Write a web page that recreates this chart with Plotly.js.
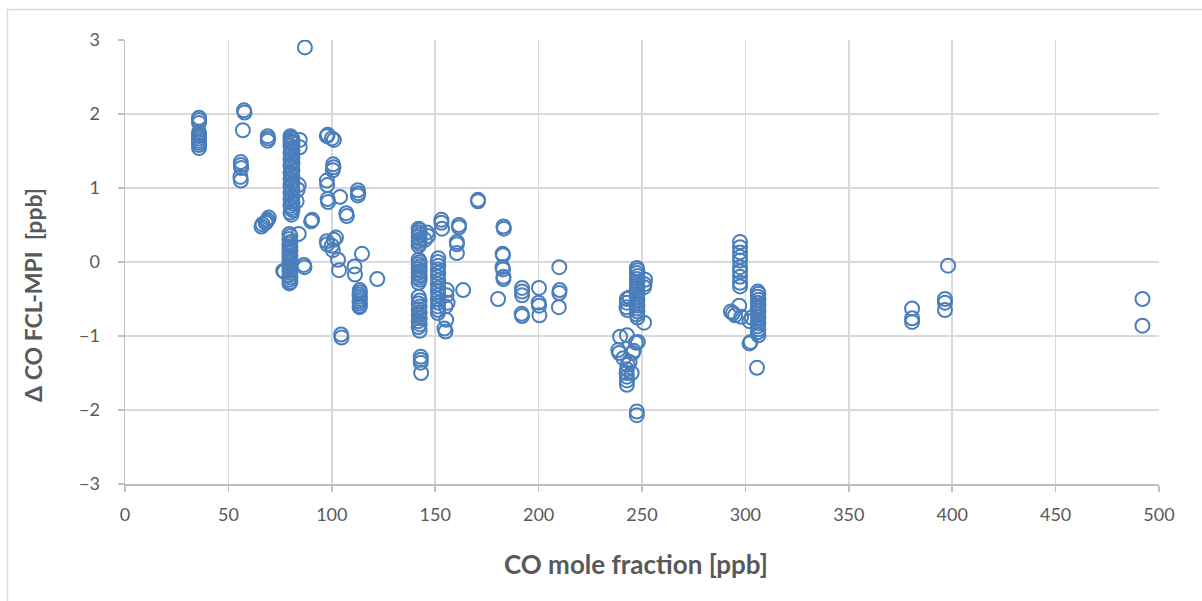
<!DOCTYPE html>
<html>
<head>
<meta charset="utf-8">
<script src="https://cdn.plot.ly/plotly-3.0.1.min.js"></script>
<style>html,body{margin:0;padding:0;background:#fff;}#chart{width:1202px;height:601px;}</style>
</head>
<body>
<div id="chart"></div>
<script>
// CO mole fraction [ppb]
const coMoleFraction = [
  // ~36 ppb
  35.8,35.8,35.8,35.8,35.8,35.8,35.8,35.8,35.8,35.8,35.8,
  // ~57 ppb
  57.5,57.8,57,56,56,56.2,55.8,56,
  // ~69 ppb
  69,69.2,69, 66,66.5,68,69,69.5,68.5,
  // dense column ~80 (upper)
  80,80.5,81,80,80.5,81,80,80.5,81,80,80.5,81,80,80.5,81,80,80.5,81,80,80.5,81,80,80.5,81,80,80.5,81,80,80.5,81,80,80.5,81,80,80.5,81,80,80.5,
  84.5,84.5,84,83.5,83,
  // dense column ~80 (lower)
  79.5,80,79.5,80,79.5,80,79.5,80,79.5,80,79.5,80,79.5,80,79.5,80,79.5,80,79.5,80,79.5,80,79.5,
  77,76.5,84,86.5,86.8,87,
  90,90.5,
  // ~98-122 ppb
  97.6,98,100,101,100.6,100.8,100.5,97.6,97.8,98,98.2,104,112.6,112.8,112.6,107,107.3,97.6,97.8,100,101,102,100.5,103,103.5,111,111.2,114.6,122,104.5,104.7,
  // ~113 column
  113.5,113.6,113.4,113.5,113.6,113.4,113.5,113.6,113.4,
  // ~142 ppb
  142,142.5,142,142.5,142,142.5,142,142.5,142,
  142,142.5,142,142.5,142,142.5,142,142.5,142,142.5,142,
  142,142.5,142,142.5,142,142.5,142,142.5,142,142.5,142,142.5,
  143,143,143,143.2,146,146.5,145,
  // ~151 ppb
  151.5,151.3,151.5,151.3,151.5,151.3,151.5,151.3,151.5,151.3,151.5,151.3,151.5,151.3,151.5,151.3,
  155.6,155.5,156,155,155.3,155,154.5,163.5,
  153,153,153.3,161.5,161.5,160.5,160.5,160.5,170.7,170.7,
  // ~180-210 ppb
  183,183.2,182.8,182.6,182.5,182.8,183,183,180.4,
  192,192,192,191.8,192,200.2,200,200.2,200.4,210,210.2,210,209.8,
  // ~247 ppb
  247.5,247.8,247.5,247.8,247.5,247.8,247.5,247.8,247.5,247.8,247.5,247.8,247.5,247.8,247.5,247.8,247.5,247.8,
  251.5,251.2,251,251,242.7,242.7,242.5,243,244,
  239.4,242.7,238.5,239,245.5,247,248,241,243,242.7,242.5,242.7,242.7,242.7,245,244,246,247.5,247.5,
  // ~297 ppb
  297.4,297.4,297.4,297.4,297.4,297.4,297.4,297.4,297.4,297.4,
  294,295,293,297,298,
  // ~306 ppb
  306,306.3,306,306.3,306,306.3,306,306.3,306,306.3,306,306.3,306,306.3,306,306.3,
  302,302.5,305.6,303,302,
  // high values
  380.6,380.6,380.6,396.5,396.5,396.5,398,492,492
];

// Δ CO FCL-MPI [ppb]
const deltaCO = [
  1.95,1.92,1.88,1.75,1.72,1.70,1.67,1.64,1.61,1.58,1.54,
  2.05,2.02,1.78,1.35,1.31,1.27,1.15,1.10,
  1.70,1.67,1.64, 0.48,0.51,0.53,0.57,0.60,0.55,
  1.70,1.68,1.66,1.64,1.62,1.60,1.57,1.54,1.51,1.48,1.45,1.42,1.39,1.36,1.33,1.30,1.27,1.24,1.21,1.18,1.15,1.12,1.09,1.06,1.03,1.00,0.97,0.94,0.91,0.88,0.85,0.82,0.79,0.76,0.73,0.70,0.67,0.64,
  1.65,1.55,1.04,0.98,0.82,
  0.38,0.35,0.31,0.27,0.24,0.21,0.18,0.15,0.12,0.09,0.06,0.03,0.00,-0.03,-0.06,-0.09,-0.12,-0.15,-0.18,-0.21,-0.24,-0.27,-0.29,
  -0.13,-0.12,0.38,-0.04,-0.07,2.90,
  0.55,0.57,
  1.70,1.72,1.67,1.65,1.32,1.28,1.24,1.10,1.04,0.85,0.81,0.88,0.97,0.93,0.90,0.66,0.62,0.28,0.24,0.22,0.30,0.33,0.16,0.03,-0.11,-0.06,-0.17,0.11,-0.23,-0.98,-1.02,
  -0.38,-0.41,-0.44,-0.47,-0.50,-0.53,-0.56,-0.59,-0.61,
  0.45,0.43,0.40,0.37,0.34,0.31,0.28,0.25,0.22,
  0.03,0.00,-0.03,-0.06,-0.09,-0.12,-0.15,-0.18,-0.21,-0.24,-0.28,
  -0.47,-0.52,-0.56,-0.60,-0.64,-0.68,-0.72,-0.76,-0.80,-0.84,-0.88,-0.93,
  -1.28,-1.32,-1.36,-1.50,0.40,0.35,0.30,
  0.05,0.00,-0.05,-0.10,-0.15,-0.20,-0.25,-0.30,-0.35,-0.40,-0.45,-0.50,-0.55,-0.60,-0.65,-0.69,
  -0.38,-0.45,-0.55,-0.60,-0.78,-0.94,-0.90,-0.38,
  0.57,0.53,0.45,0.50,0.47,0.27,0.24,0.12,0.84,0.82,
  0.48,0.45,0.09,0.11,-0.07,-0.10,-0.20,-0.23,-0.50,
  -0.35,-0.40,-0.45,-0.70,-0.73,-0.35,-0.55,-0.59,-0.72,-0.07,-0.38,-0.42,-0.61,
  -0.08,-0.11,-0.15,-0.19,-0.23,-0.27,-0.31,-0.35,-0.39,-0.43,-0.47,-0.51,-0.55,-0.59,-0.63,-0.67,-0.71,-0.75,
  -0.24,-0.30,-0.34,-0.82,-0.50,-0.55,-0.61,-0.65,-0.48,
  -1.01,-0.99,-1.19,-1.23,-1.23,-1.09,-1.08,-1.30,-1.39,-1.45,-1.50,-1.55,-1.60,-1.66,-1.50,-1.35,-1.20,-2.02,-2.07,
  0.27,0.20,0.13,0.07,0.02,-0.07,-0.13,-0.20,-0.28,-0.33,
  -0.69,-0.72,-0.67,-0.59,-0.74,
  -0.40,-0.43,-0.47,-0.51,-0.55,-0.59,-0.63,-0.67,-0.71,-0.75,-0.79,-0.83,-0.87,-0.91,-0.95,-0.99,
  -1.10,-1.08,-1.43,-0.75,-0.80,
  -0.63,-0.76,-0.81,-0.50,-0.55,-0.65,-0.05,-0.50,-0.86
];

const xTitle = 'CO mole fraction [ppb]';
const yTitle = '\u0394 CO FCL-MPI  [ppb]';

const W = 1202, H = 601;
const L = 125, R = 43, T = 40, B = 117;
const pw = W - L - R, ph = H - T - B;
const px = v => (v - L) / pw;
const py = v => (H - B - v) / ph;

const trace = {
  x: coMoleFraction,
  y: deltaCO,
  type: 'scatter',
  mode: 'markers',
  marker: {symbol: 'circle-open', size: 14, color: '#4a7ebb', line: {width: 2, color: '#4a7ebb'}},
  hoverinfo: 'x+y'
};

const axisFont = {family: 'Lato, "Open Sans", sans-serif', size: 18, color: '#595959'};
const xTitleFont = {family: 'Lato, "Open Sans", sans-serif', size: 26, color: '#595959'};
const yTitleFont = {family: 'Lato, "Open Sans", sans-serif', size: 23, color: '#595959'};

const layout = {
  width: W, height: H,
  margin: {l: L, r: R, t: T, b: B, pad: 0},
  paper_bgcolor: '#ffffff', plot_bgcolor: '#ffffff',
  showlegend: false,
  xaxis: {
    range: [0, 500], dtick: 50, tick0: 0,
    showgrid: true, gridcolor: '#d9d9d9', gridwidth: 1.5,
    zeroline: false, showline: true, linecolor: '#bfbfbf', linewidth: 1.5,
    ticks: 'outside', ticklen: 6, tickcolor: '#bfbfbf', tickwidth: 1.5,
    tickfont: axisFont, ticklabelstandoff: 8,
    fixedrange: true
  },
  yaxis: {
    range: [-3, 3], dtick: 1, tick0: 0,
    showgrid: true, gridcolor: '#d9d9d9', gridwidth: 1.5,
    zeroline: false, showline: true, linecolor: '#bfbfbf', linewidth: 1.5,
    ticks: 'outside', ticklen: 6, tickcolor: '#bfbfbf', tickwidth: 1.5,
    tickfont: axisFont, ticklabelstandoff: 14,
    fixedrange: true
  },
  annotations: [
    {text: '<b>' + xTitle + '</b>', xref: 'paper', yref: 'paper', x: px(636), y: py(564),
     xanchor: 'center', yanchor: 'middle', showarrow: false, font: xTitleFont},
    {text: '<b>' + yTitle + '</b>', xref: 'paper', yref: 'paper', x: px(33), y: py(295),
     xanchor: 'center', yanchor: 'middle', showarrow: false, textangle: -90, font: yTitleFont}
  ],
  shapes: [
    {type: 'rect', xref: 'paper', yref: 'paper', x0: px(7.5), x1: px(1215), y0: py(9.5), y1: py(615),
     line: {color: '#d9d9d9', width: 1.3}, fillcolor: 'rgba(0,0,0,0)', layer: 'below'}
  ]
};

Plotly.newPlot('chart', [trace], layout, {staticPlot: true, displayModeBar: false});
</script>
</body>
</html>
